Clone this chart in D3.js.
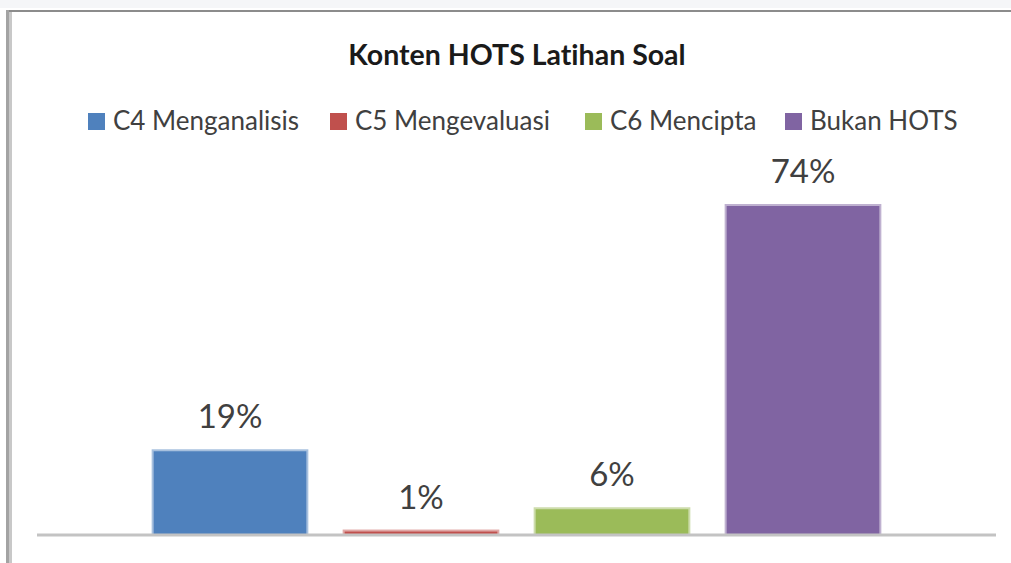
<!DOCTYPE html>
<html>
<head>
<meta charset="utf-8">
<script src="https://cdn.jsdelivr.net/npm/d3@7"></script>
<style>
  body { margin: 0; background: #fff; }
  svg { display: block; }
  text { font-family: Lato, "Liberation Sans", sans-serif; font-variant-ligatures: none; }
</style>
</head>
<body>
<div id="chart"></div>
<script>
// data
const categories = ["C4 Menganalisis", "C5 Mengevaluasi", "C6 Mencipta", "Bukan HOTS"]
const values = [19, 1, 6, 74]
const labels = ["19%", "1%", "6%", "74%"]
const colors = ["#4f81bd", "#c0504d", "#9bbb59", "#8064a2"]
const edgeColors = ["#a7c0de", "#e0a8a6", "#cddcac", "#bfb1d0"]

const width = 1011
const height = 563

const svg = d3.select("#chart")
    .append("svg")
    .attr("width", width)
    .attr("height", height)

// frame of the cropped chart
svg.append("rect").attr("x", 0).attr("y", 0).attr("width", width).attr("height", 8).style("fill", "#f5f6f8")
svg.append("rect").attr("x", 6).attr("y", 10).attr("width", width - 6).attr("height", 2).style("fill", "#8c8c8c")
svg.append("rect").attr("x", 6).attr("y", 10).attr("width", 3).attr("height", height - 10).style("fill", "#a3a3a3")
svg.append("rect").attr("x", 9).attr("y", 12).attr("width", 3).attr("height", height - 12).style("fill", "#c8c8c8")

// title
svg.append("text")
    .attr("x", 517)
    .attr("y", 65)
    .attr("text-anchor", "middle")
    .style("font-size", "28.5px")
    .style("font-weight", "bold")
    .style("fill", "#1a1a1a")
    .text("Konten HOTS Latihan Soal")

// legend
const legendX = [88, 330, 585, 785]
const legend = svg.selectAll(".legend")
    .data(categories)
    .enter()
    .append("g")
    .attr("class", "legend")
    .attr("transform", (d, i) => `translate(${legendX[i]}, 113)`)

legend.append("rect")
    .attr("width", 17)
    .attr("height", 17)
    .style("fill", (d, i) => colors[i])

legend.append("text")
    .attr("x", 25)
    .attr("y", 17)
    .style("font-size", "26px")
    .style("fill", "#404040")
    .text(d => d)

// scales
const x = d3.scaleBand()
    .domain(categories)
    .range([134.5, 898.5])
    .paddingInner(0.19)
    .paddingOuter(0.095)

const baseY = 535
const y = d3.scaleLinear()
    .domain([0, 74])
    .range([baseY, 205])

// bars
svg.selectAll(".bar")
    .data(values)
    .enter()
    .append("rect")
    .attr("class", "bar")
    .attr("x", (d, i) => x(categories[i]))
    .attr("y", d => y(d))
    .attr("width", x.bandwidth())
    .attr("height", d => baseY - y(d))
    .style("fill", (d, i) => colors[i])
    .style("stroke", (d, i) => edgeColors[i])
    .style("stroke-width", 2)

// baseline
svg.append("line")
    .attr("x1", 37)
    .attr("x2", 996)
    .attr("y1", baseY)
    .attr("y2", baseY)
    .style("stroke", "#c3c3c3")
    .style("stroke-width", 3)

// data labels
svg.selectAll(".label")
    .data(values)
    .enter()
    .append("text")
    .attr("class", "label")
    .attr("x", (d, i) => x(categories[i]) + x.bandwidth() / 2)
    .attr("y", d => y(d) - 22)
    .attr("text-anchor", "middle")
    .style("font-size", "33px")
    .style("fill", "#404040")
    .text((d, i) => labels[i])
</script>
</body>
</html>
